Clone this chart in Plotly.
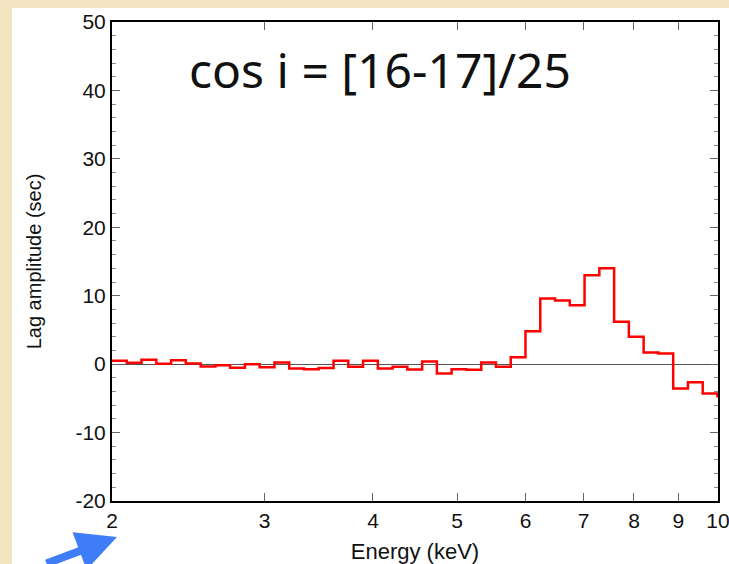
import plotly.graph_objects as go

# Bin edges (keV)
energy_edges = [2.000, 2.080, 2.163, 2.250, 2.340, 2.433, 2.531, 2.632, 2.737, 2.847,
                2.960, 3.079, 3.202, 3.330, 3.463, 3.602, 3.746, 3.896, 4.052, 4.214,
                4.382, 4.558, 4.740, 4.929, 5.127, 5.332, 5.545, 5.767, 5.997, 6.237,
                6.487, 6.746, 7.016, 7.297, 7.589, 7.892, 8.208, 8.536, 8.878, 9.233,
                9.602, 9.986, 10.385]

# Lag amplitude (sec) per bin
lag_values = [0.48, 0.20, 0.63, 0.05, 0.58, 0.10, -0.34, -0.15, -0.53, 0.00,
              -0.44, 0.24, -0.63, -0.73, -0.58, 0.49, -0.39, 0.49, -0.63, -0.39,
              -0.80, 0.39, -1.36, -0.73, -0.83, 0.24, -0.39, 1.00, 4.82, 9.60,
              9.30, 8.62, 13.00, 14.03, 6.20, 3.99, 1.71, 1.56, -3.55, -2.63,
              -4.29, -4.70]

x_tick_vals = [2, 3, 4, 5, 6, 7, 8, 9, 10]
x_tick_text = ["2", "3", "4", "5", "6", "7", "8", "9", "10"]
y_tick_vals = [-20, -10, 0, 10, 20, 30, 40, 50]
y_tick_text = ["-20", "-10", "0", "10", "20", "30", "40", "50"]

W, H = 729, 564
L, R, T, B = 112, 11, 22, 63
pw, ph = W - L - R, H - T - B


def px_to_paper(px, py):
    return (px - L) / pw, (H - B - py) / ph


fig = go.Figure()
fig.add_trace(go.Scatter(
    x=energy_edges,
    y=lag_values + [lag_values[-1]],
    mode="lines",
    line=dict(shape="hv", color="#ff0000", width=2.5),
    showlegend=False,
))

x0, y0 = px_to_paper(12, 8)
x1, y1 = px_to_paper(729, 564)
fig.add_shape(type="rect", xref="paper", yref="paper", x0=x0, y0=y1, x1=x1, y1=y0,
              fillcolor="white", line=dict(width=0), layer="below")

FONT = "Liberation Sans, Arial, sans-serif"
tick_font = dict(family=FONT, size=21, color="#111")

fig.update_xaxes(
    type="log", range=[0.30103, 1.000001],
    tickvals=x_tick_vals, ticktext=x_tick_text, ticklabeloverflow="allow",
    ticks="inside", ticklen=8, tickwidth=1, tickcolor="#666",
    showline=True, linecolor="black", linewidth=2, mirror="allticks",
    showgrid=False, zeroline=False, tickfont=tick_font,
    title=dict(text="Energy (keV)", font=dict(family=FONT, size=22, color="#111"), standoff=12),
)
fig.update_yaxes(
    range=[-20, 50], tickvals=y_tick_vals, ticktext=y_tick_text,
    ticks="inside", ticklen=8, tickwidth=1, tickcolor="#666",
    minor=dict(dtick=2, ticks="inside", ticklen=4, tickcolor="#888", showgrid=False),
    showline=True, linecolor="black", linewidth=2, mirror="allticks",
    showgrid=False, zeroline=True, zerolinecolor="#555", zerolinewidth=1,
    tickfont=tick_font,
    title=dict(text="Lag amplitude (sec)", font=dict(family=FONT, size=20, color="#111"), standoff=28),
)

ax_x, ax_y = px_to_paper(380, 69)
fig.add_annotation(x=ax_x, y=ax_y, xref="paper", yref="paper", text="cos i = [16-17]/25",
                   showarrow=False, font=dict(family="Noto Sans", size=48, color="#111"),
                   xanchor="center", yanchor="middle")

tip_x, tip_y = px_to_paper(117, 537)
fig.add_annotation(x=tip_x, y=tip_y, xref="paper", yref="paper", text="",
                   showarrow=True, ax=-72, ay=44, arrowhead=2, arrowsize=1.0,
                   arrowwidth=8, arrowcolor="#3f7cf7")

fig.update_layout(
    width=W, height=H,
    margin=dict(l=L, r=R, t=T, b=B, autoexpand=False),
    paper_bgcolor="#f2e4c0", plot_bgcolor="white",
)

fig.write_html("out.html")
